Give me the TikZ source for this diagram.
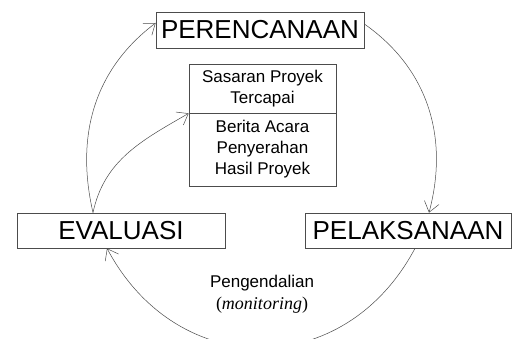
\documentclass[tikz,border=0pt]{standalone}
\usepackage{fontspec}
\setmainfont{Liberation Sans}
\newfontfamily\serifit{Liberation Serif}
\usetikzlibrary{arrows.meta}
\tikzset{
  bigbox/.style={draw=black!70, line width=0.7pt, inner sep=0pt, font=\fontsize{26}{30}\selectfont},
  smallbox/.style={draw=black!70, line width=0.7pt, inner sep=0pt, align=center, minimum width=147pt, font=\fontsize{17}{21}\selectfont},
  conn/.style={draw=black!70, line width=0.5pt, -{Straight Barb[length=10pt,width=15pt]}},
}
\begin{document}
\begin{tikzpicture}[x=1pt,y=1pt]
\useasboundingbox (0,0) rectangle (512,338);
\node[bigbox, minimum width=208pt, minimum height=36pt] (per) at (260,308) {PERENCANAAN};
\node[bigbox, minimum width=208pt, minimum height=35pt] (eva) at (121,107.5) {EVALUASI};
\node[bigbox, minimum width=206pt, minimum height=35pt] (pel) at (408,107.5) {PELAKSANAAN};
\node[smallbox, minimum height=49pt] (sas) at (262.5,249.5) {Sasaran Proyek\\Tercapai};
\node[smallbox, minimum height=73pt] (ber) at (262.5,188.5) {Berita Acara\\Penyerahan\\Hasil Proyek};
\node[align=center, font=\fontsize{17}{22}\selectfont] (lab) at (262,44) {Pengendalian\\{\serifit\fontsize{18}{22}\selectfont(\textit{monitoring})}};
\draw[conn] ([yshift=6pt]per.east) to[out=-35,in=75] ([xshift=21pt]pel.north);
\draw[conn] ([xshift=7pt]pel.south) to[out=-118,in=-62,looseness=1.25] ([xshift=-14pt]eva.south);
\draw[conn] ([xshift=-28pt]eva.north) to[out=103,in=217] ([yshift=7pt]per.west);
\draw[conn] ([xshift=-28pt]eva.north) to[out=78,in=210] (sas.south west);
\end{tikzpicture}
\end{document}
